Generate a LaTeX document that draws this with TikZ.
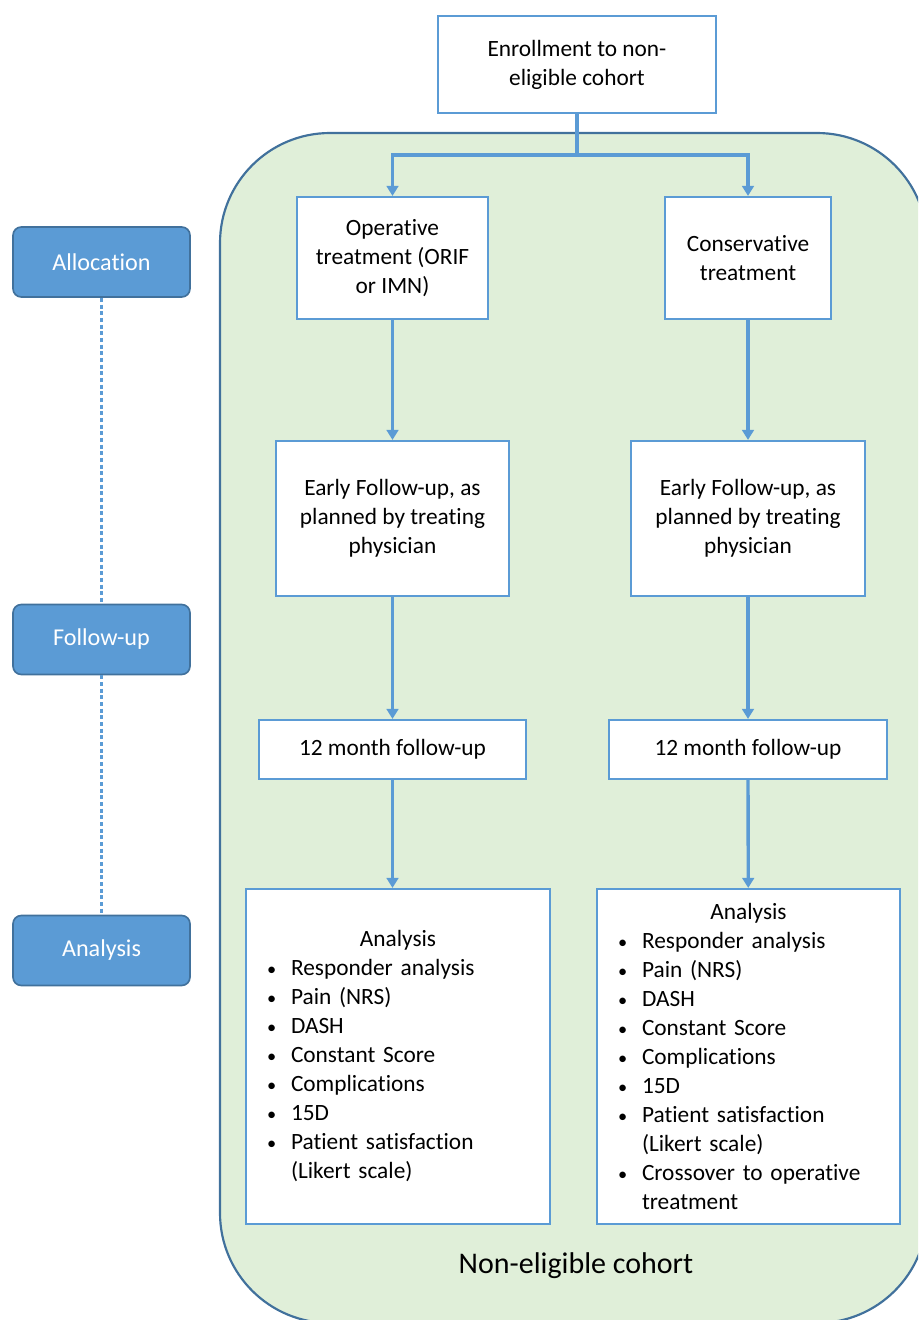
\documentclass[tikz,border=0pt]{standalone}
\usepackage{fontspec}
\setmainfont{Carlito}[RawFeature={-liga;-clig;-calt}]
\usetikzlibrary{arrows.meta}
\definecolor{boxblue}{RGB}{91,155,213}
\definecolor{edgeblue}{RGB}{65,113,156}
\definecolor{cohortgreen}{RGB}{224,239,217}
\newcommand{\bul}[1]{\hangindent=27pt\hangafter=1\noindent\hspace*{12.6pt}\makebox[14.4pt][l]{\fontsize{11}{11}\selectfont\textbullet}#1\par}
\tikzset{
  stepbox/.style={draw=boxblue, line width=1.3pt, fill=white, align=center, inner sep=2pt,
    font=\fontsize{14}{17.4}\selectfont},
  phase/.style={draw=edgeblue, line width=1pt, fill=boxblue, rounded corners=5pt, text=white,
    minimum width=106.2pt, minimum height=42pt, font=\fontsize{14.5}{17}\selectfont},
  flow/.style={draw=boxblue, line width=2pt},
  flowarr/.style={flow, -{Triangle[width=7pt,length=6pt]}},
  phaseline/.style={draw=boxblue, line width=1.4pt, dash pattern=on 2.4pt off 1.6pt}
}
\begin{document}
\begin{tikzpicture}[x=0.6pt,y=-0.6pt]
  \useasboundingbox (0,0) rectangle (918,1320);
  \clip (0,0) rectangle (918,1320);
  % cohort region
  \draw[fill=cohortgreen, draw=edgeblue, line width=1.3pt, rounded corners=66pt] (220,133) rectangle (927,1323);
  \node (cohort) at (576,1266) {\fontsize{18}{21}\selectfont Non-eligible cohort};

  % phases on the left
  \node[phase] (alloc) at (101.5,262) {Allocation};
  \node[phase] (fup) at (101.5,639.5) {Follow-up};
  \node[phase] (ana) at (101.5,950.5) {Analysis};
  \draw[phaseline] (alloc) -- (fup);
  \draw[phaseline] (fup) -- (ana);

  % boxes
  \node[stepbox, minimum width=166.8pt, minimum height=58.2pt] (enroll) at (577,64.5) {Enrollment to non-\\eligible cohort};
  \node[stepbox, minimum width=114.6pt, minimum height=73.2pt] (oper) at (392.5,258) {Operative\\treatment (ORIF\\or IMN)};
  \node[stepbox, minimum width=99.6pt, minimum height=73.2pt] (cons) at (748,258) {Conservative\\treatment};
  \node[stepbox, minimum width=139.8pt, minimum height=93pt] (earlyL) at (392.5,518.5) {Early Follow-up, as\\planned by treating\\physician};
  \node[stepbox, minimum width=140.4pt, minimum height=93pt] (earlyR) at (748,518.5) {Early Follow-up, as\\planned by treating\\physician};
  \node[stepbox, minimum width=160.2pt, minimum height=35.4pt] (monthL) at (392.5,749.5) {12 month follow-up};
  \node[stepbox, minimum width=166.8pt, minimum height=35.4pt] (monthR) at (748,749.5) {12 month follow-up};
  \node[stepbox, align=left, inner xsep=0pt, text width=182.4pt, minimum height=201pt] (anaL) at (398,1056.5) {%
    {\centering Analysis\par}
    \bul{Responder analysis}
    \bul{Pain (NRS)}
    \bul{DASH}
    \bul{Constant Score}
    \bul{Complications}
    \bul{15D}
    \bul{Patient satisfaction\newline(Likert scale)}};
  \node[stepbox, align=left, inner xsep=0pt, text width=181.8pt, minimum height=201pt] (anaR) at (748.5,1056.5) {%
    {\centering Analysis\par}
    \bul{Responder analysis}
    \bul{Pain (NRS)}
    \bul{DASH}
    \bul{Constant Score}
    \bul{Complications}
    \bul{15D}
    \bul{Patient satisfaction\newline(Likert scale)}
    \bul{Crossover to operative\newline treatment}};

  % connectors
  \coordinate (split) at (577,155);
  \draw[flow] (enroll) -- (split);
  \draw[flowarr] (split) -| (oper);
  \draw[flowarr] (split) -| (cons);
  \draw[flowarr] (oper) -- (earlyL);
  \draw[flowarr] (cons) -- (earlyR);
  \draw[flowarr] (earlyL) -- (monthL);
  \draw[flowarr] (earlyR) -- (monthR);
  \draw[flowarr] (monthL) -- (monthL |- anaL.north);
  \draw[flowarr] (monthR) -- (anaR);
\end{tikzpicture}
\end{document}
